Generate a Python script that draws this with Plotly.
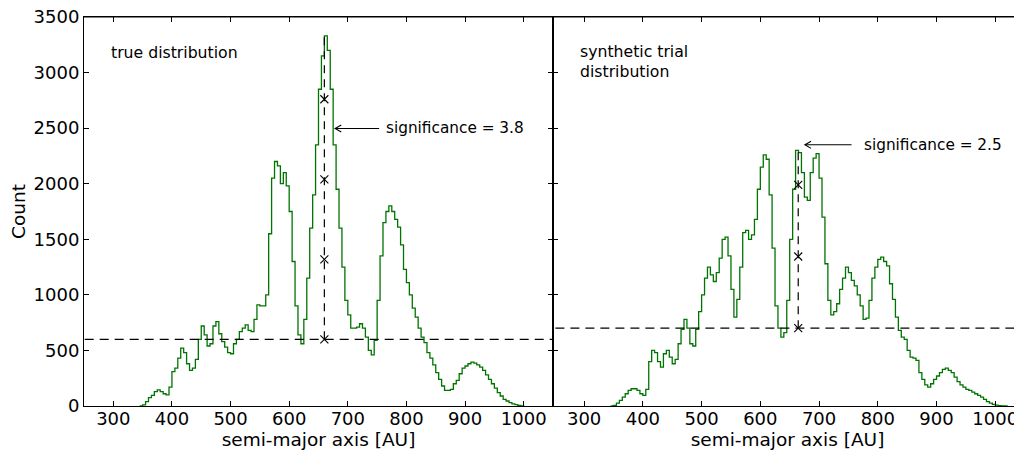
import numpy as np
import plotly.graph_objects as go

# ---------------- data ----------------
bin_start = 345.0
bin_width = 5.0

true_counts = [
    0, 10, 40, 75, 95, 130, 145, 130, 110, 100,            # 345-395
    170, 310, 340, 430, 520, 480, 380, 320, 340, 420,     # 395-445
    600, 720, 640, 540, 560, 720, 760, 650, 580, 530,     # 445-495
    480, 470, 560, 600, 670, 700, 730, 680, 670, 780,     # 495-545
    910, 900, 900, 1000, 1550, 2050, 2200, 2160, 2000, 2100,  # 545-595
    1980, 1750, 1300, 900, 640, 560, 780, 1150, 1600, 1900,   # 595-645
    2350, 2850, 3150, 3330, 3200, 2850, 2350, 1950, 1600, 1250,  # 645-695
    950, 820, 700, 700, 710, 740, 700, 620, 500, 460,     # 695-745
    590, 950, 1350, 1650, 1750, 1800, 1750, 1680, 1610, 1450,  # 745-795
    1230, 1110, 1000, 880, 800, 700, 620, 570, 480, 430,  # 795-845
    370, 300, 240, 180, 140, 140, 150, 200, 230, 290,     # 845-895
    340, 360, 380, 395, 385, 370, 350, 320, 280, 240,     # 895-945
    200, 160, 120, 90, 60, 45, 30, 20, 12, 6, 2,          # 945-1000
]

synth_counts = [
    0, 5, 25, 50, 80, 110, 140, 155, 155, 140,            # 345-395
    110, 95, 150, 400, 500, 480, 400, 350, 470, 500,      # 395-445
    440, 380, 420, 560, 690, 780, 700, 560, 540, 690,     # 445-495
    850, 1000, 1150, 1250, 1180, 1120, 1200, 1330, 1500, 1520,  # 495-545
    1350, 1050, 800, 960, 1250, 1560, 1580, 1500, 1540, 1680,   # 545-595
    1950, 2150, 2260, 2220, 1900, 1420, 900, 700, 620, 660,     # 595-645
    950, 1500, 1950, 2300, 2280, 2100, 1880, 1850, 2100, 2230,  # 645-695
    2270, 2050, 1700, 1280, 950, 820, 850, 920, 1050, 1150,     # 695-745
    1250, 1200, 1130, 1080, 1000, 900, 780, 790, 950, 1150,     # 745-795
    1250, 1320, 1340, 1300, 1260, 1100, 960, 800, 680, 620,     # 795-845
    600, 500, 440, 430, 410, 300, 240, 190, 170, 200,           # 845-895
    240, 270, 300, 330, 340, 320, 300, 260, 220, 190,           # 895-945
    170, 150, 140, 125, 110, 95, 80, 60, 40, 25,                # 945-995
    15, 8, 4, 2, 1,                                             # 995-1020
]

# significance constructions
true_threshold = 600
true_peak_x = 660
true_peak_y = 3335
true_marks = [600, 1320, 2040, 2760]
true_label = "significance = 3.8"

synth_threshold = 700
synth_peak_x = 664.5
synth_peak_y = 2310
synth_marks = [700, 1345, 1990]
synth_label = "significance = 2.5"

xticks = [300, 400, 500, 600, 700, 800, 900, 1000]
yticks = [0, 500, 1000, 1500, 2000, 2500, 3000, 3500]

GREEN = "#007400"
FONT = "DejaVu Sans"
X1_RANGE = [250, 1050]
X2_RANGE = [247, 1045.5]


def step_xy(counts):
    n = len(counts)
    edges = bin_start + bin_width * np.arange(n + 1)
    x = np.concatenate([[edges[0]], edges])
    y = np.concatenate([[0], counts, [0]])
    return x, y


fig = go.Figure()

for i, counts in enumerate([true_counts, synth_counts]):
    xa = "x" if i == 0 else "x2"
    ya = "y" if i == 0 else "y2"
    sx, sy = step_xy(counts)
    fig.add_trace(go.Scatter(x=sx, y=sy, mode="lines", line=dict(color=GREEN, width=1.3, shape="hv"),
                             xaxis=xa, yaxis=ya, showlegend=False, hoverinfo="skip"))

# invisible traces so the top (mirror) axes get drawn
for xa, ya in [("x3", "y"), ("x4", "y2")]:
    fig.add_trace(go.Scatter(x=[500], y=[-100], mode="markers", marker=dict(opacity=0),
                             xaxis=xa, yaxis=ya, showlegend=False, hoverinfo="skip"))

# threshold dashed lines (full width)
for i, thr in enumerate([true_threshold, synth_threshold]):
    xa = "x" if i == 0 else "x2"
    ya = "y" if i == 0 else "y2"
    fig.add_trace(go.Scatter(x=[200, 1100], y=[thr, thr], mode="lines",
                             line=dict(color="black", width=1.2, dash="9px,6px"),
                             xaxis=xa, yaxis=ya, showlegend=False, hoverinfo="skip"))

# vertical dashed lines + markers
for i, (px_, top, thr, marks) in enumerate([(true_peak_x, true_peak_y, true_threshold, true_marks),
                                             (synth_peak_x, synth_peak_y, synth_threshold, synth_marks)]):
    xa = "x" if i == 0 else "x2"
    ya = "y" if i == 0 else "y2"
    fig.add_trace(go.Scatter(x=[px_, px_], y=[thr, top], mode="lines",
                             line=dict(color="black", width=1.2, dash="8px,6px"),
                             xaxis=xa, yaxis=ya, showlegend=False, hoverinfo="skip"))
    fig.add_trace(go.Scatter(x=[px_] * len(marks), y=marks, mode="markers",
                             marker=dict(symbol="x-thin", size=8, line=dict(color="black", width=1.1)),
                             xaxis=xa, yaxis=ya, showlegend=False, hoverinfo="skip"))

# arrows (line + open head) and labels
arrows = [
    # xref, yref, head_x, tail_x, y, text_x, text
    ("x", "y", 678.3, 753.4, 2497, 762.5, true_label),
    ("x2", "y2", 675.9, 755.3, 2350, 772.4, synth_label),
]
for xr, yr, hx, tx, yy, txx, label in arrows:
    fig.add_shape(type="line", xref=xr, yref=yr, x0=hx, x1=tx, y0=yy, y1=yy,
                  line=dict(color="black", width=1.1))
    fig.add_shape(type="path", xref=xr, yref=yr,
                  path=f"M {hx + 10.5},{yy + 32} L {hx},{yy} L {hx + 10.5},{yy - 32}",
                  line=dict(color="black", width=1.1))
    fig.add_annotation(x=txx, y=yy, xref=xr, yref=yr, text=label, showarrow=False,
                       xanchor="left", yanchor="middle", font=dict(family=FONT, size=15.3, color="black"))

# top frame line across both panels
fig.add_shape(type="line", xref="paper", yref="paper", x0=0, x1=1, y0=1, y1=1,
              line=dict(color="black", width=1.2), layer="above")

fig.add_annotation(x=292.7, y=3180, xref="x", yref="y", text="true distribution", showarrow=False,
                   xanchor="left", yanchor="middle", font=dict(family=FONT, size=15.7, color="black"))
fig.add_annotation(x=290, y=3100, xref="x2", yref="y2", text="synthetic trial<br>distribution",
                   showarrow=False, xanchor="left", yanchor="middle", align="left",
                   font=dict(family=FONT, size=15.7, color="black"))

axis_common = dict(showline=True, linecolor="black", linewidth=1, ticks="inside", ticklen=5,
                   tickcolor="black", tickwidth=1, showgrid=False, zeroline=False, automargin=False,
                   ticklabeloverflow="allow",
                   tickfont=dict(family=FONT, size=18, color="black"))

# the page body adds an 8px offset, so the figure is sized to the visible area
fig.update_layout(
    width=1014, height=445,
    margin=dict(l=76, r=0, t=9, b=47),
    paper_bgcolor="white", plot_bgcolor="white",
    font=dict(family=FONT, color="black"),
    xaxis=dict(domain=[0, 0.5], range=X1_RANGE, tickvals=xticks, mirror=False,
               ticklabelstandoff=-4,
               title=dict(text="semi-major axis [AU]", font=dict(family=FONT, size=18.5), standoff=4),
               **axis_common),
    xaxis2=dict(domain=[0.5, 1], range=X2_RANGE, tickvals=xticks, mirror=False, anchor="y2",
                ticklabelstandoff=-4,
                title=dict(text="semi-major axis [AU]", font=dict(family=FONT, size=18.5), standoff=4),
                **axis_common),
    xaxis3=dict(domain=[0, 0.5], range=X1_RANGE, tickvals=xticks, overlaying="x", side="top",
                anchor="y", showticklabels=False, **axis_common),
    xaxis4=dict(domain=[0.5, 1], range=X2_RANGE, tickvals=xticks, overlaying="x2", side="top",
                anchor="y2", showticklabels=False, **axis_common),
    yaxis=dict(range=[0, 3500], tickvals=yticks, mirror="ticks", anchor="x",
               title=dict(text="Count", font=dict(family=FONT, size=18.5), standoff=4),
               **axis_common),
    yaxis2=dict(range=[0, 3500], tickvals=yticks, anchor="x2", showticklabels=False, mirror=False,
                **axis_common),
)

fig.write_html("out.html")
